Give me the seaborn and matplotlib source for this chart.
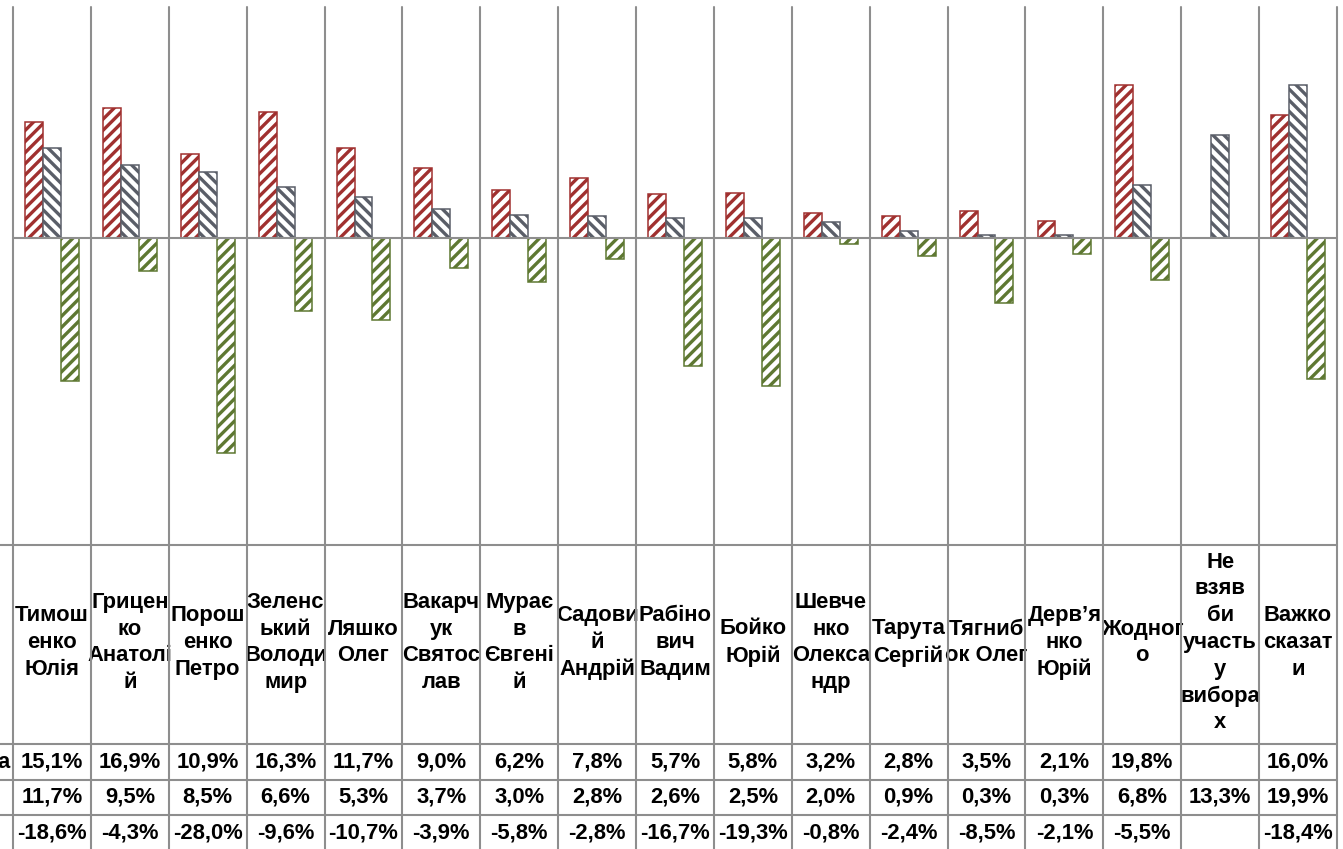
import numpy as np
import pandas as pd
import matplotlib
matplotlib.use("Agg")
import matplotlib.pyplot as plt
import matplotlib.transforms as mtransforms
import seaborn as sns

# ---------------- data ----------------
categories = [
    "Тимош\nенко\nЮлія", "Грицен\nко\nАнатолі\nй", "Порош\nенко\nПетро",
    "Зеленс\nький\nВолоди\nмир", "Ляшко\nОлег", "Вакарч\nук\nСвятос\nлав",
    "Мурає\nв\nЄвгені\nй", "Садови\nй\nАндрій", "Рабіно\nвич\nВадим",
    "Бойко\nЮрій", "Шевче\nнко\nОлекса\nндр", "Тарута\nСергій",
    "Тягниб\nок Олег", "Дерв’я\nнко\nЮрій", "Жодног\nо",
    "Не\nвзяв\nби\nучасть\nу\nвибора\nх", "Важко\nсказат\nи",
]
series_names = ["s1", "s2", "s3"]
row_labels = ["а", "", ""]
series1 = [15.1, 16.9, 10.9, 16.3, 11.7, 9.0, 6.2, 7.8, 5.7, 5.8, 3.2, 2.8, 3.5, 2.1, 19.8, np.nan, 16.0]
series2 = [11.7, 9.5, 8.5, 6.6, 5.3, 3.7, 3.0, 2.8, 2.6, 2.5, 2.0, 0.9, 0.3, 0.3, 6.8, 13.3, 19.9]
series3 = [-18.6, -4.3, -28.0, -9.6, -10.7, -3.9, -5.8, -2.8, -16.7, -19.3, -0.8, -2.4, -8.5, -2.1, -5.5, np.nan, -18.4]

colors = ["#A0302F", "#5A5E68", "#5E7832"]
hatches = ["///", "\\\\\\", "///"]

# ---------------- style ----------------
sns.set_theme(style="white")
plt.rcParams["font.family"] = ["Liberation Sans", "DejaVu Sans"]
plt.rcParams["hatch.linewidth"] = 2.4

W, H = 1343, 849
fig = plt.figure(figsize=(W / 100, H / 100), dpi=100)

x_left, x_right = 13, 1337
y_top, y_bottom = 7, 545
ax = fig.add_axes([x_left / W, 1 - y_bottom / H, (x_right - x_left) / W, (y_bottom - y_top) / H])

all_series = [series1, series2, series3]
df = pd.DataFrame({
    "cat": np.repeat(np.array(categories, dtype=object)[None, :], 3, axis=0).ravel(),
    "series": np.repeat(series_names, len(categories)),
    "value": np.concatenate([np.array(s, dtype=float) for s in all_series]),
})
df = df.dropna()

sns.barplot(data=df, x="cat", y="value", hue="series", order=categories,
            hue_order=series_names, palette=colors, width=0.69, errorbar=None,
            legend=False, ax=ax, zorder=3)

for cont, col, h in zip(ax.containers, colors, hatches):
    for p in cont.patches:
        p.set_facecolor("white")
        p.set_edgecolor(col)
        p.set_hatch(h)
        p.set_linewidth(1.1)

n = len(categories)
ax.set_xlim(-0.5, n - 0.5)
ax.set_ylim(-40, 30)
for s in ax.spines.values():
    s.set_visible(False)
ax.set_xticks([])
ax.set_yticks([])
ax.set_xlabel("")
ax.set_ylabel("")

grid_col = "#8E8E8E"
ax.axhline(0, color=grid_col, lw=1.5, zorder=4)

# vertical separators through plot and table
trans_x_fig = mtransforms.blended_transform_factory(ax.transData, fig.transFigure)
for i in range(n + 1):
    fig.add_artist(plt.Line2D([i - 0.5, i - 0.5], [0, 1 - y_top / H],
                              transform=trans_x_fig, color=grid_col, lw=1.5, zorder=1))

# horizontal table lines
row_lines = [545, 744, 780, 815]
for yl in row_lines:
    fig.add_artist(plt.Line2D([0, x_right / W], [1 - yl / H, 1 - yl / H],
                              transform=fig.transFigure, color=grid_col, lw=1.5))

fs = 15.8
# header cells
header_center = (545 + 744) / 2 - 2
for i, c in enumerate(categories):
    ax.text(i, 1 - header_center / H, c, transform=trans_x_fig, ha="center", va="center",
            fontsize=fs, fontweight="bold", linespacing=1.36, color="black",
            clip_on=False)

# data rows
row_centers = [(744 + 780) / 2, (780 + 815) / 2, (815 + 851) / 2]
for r, (vals, yc) in enumerate(zip(all_series, row_centers)):
    for i, v in enumerate(vals):
        if np.isnan(v):
            continue
        txt = f"{v:.1f}%".replace(".", ",")
        ax.text(i, 1 - yc / H, txt, transform=trans_x_fig, ha="center", va="center",
                fontsize=fs, fontweight="bold", color="black", clip_on=False)
    if row_labels[r]:
        fig.text(10 / W, 1 - yc / H, row_labels[r], ha="right", va="center",
                 fontsize=fs, fontweight="bold", color="black")

fig.savefig("out.png", dpi=100, facecolor="white")
